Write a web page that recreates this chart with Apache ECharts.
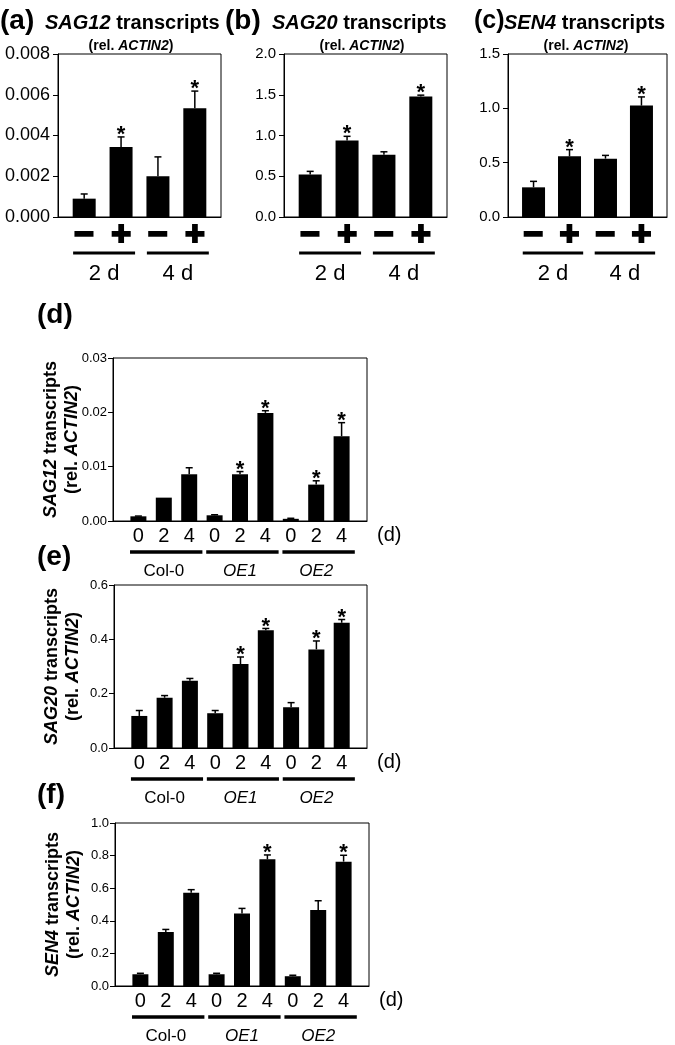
<!DOCTYPE html>
<html><head><meta charset="utf-8">
<script src="https://cdn.jsdelivr.net/npm/echarts@6/dist/echarts.min.js"></script>
<style>html,body{margin:0;padding:0;background:#fff}#c{width:675px;height:1045px}</style>
</head><body><div id="c"></div>
<script>
const FONT = '"Liberation Sans", Arial, Helvetica, sans-serif';

// ---------- data: panels (a)-(c) ----------
const treatLabels = ['\u2212', '+', '\u2212', '+'];
const dayGroups = ['2 d', '4 d'];
const sag12Treat = [0.0009, 0.00343, 0.0020, 0.00534];
const sag12TreatErr = [0.00023, 0.0005, 0.00095, 0.00084];
const sag12TreatSig = [0, 1, 0, 1];
const sag20Treat = [0.52, 0.94, 0.765, 1.48];
const sag20TreatErr = [0.04, 0.05, 0.035, 0.015];
const sag20TreatSig = [0, 1, 0, 1];
const sen4Treat = [0.273, 0.558, 0.537, 1.025];
const sen4TreatErr = [0.055, 0.062, 0.03, 0.08];
const sen4TreatSig = [0, 1, 0, 1];

// ---------- data: panels (d)-(f) ----------
const dayLabels = ['0', '2', '4', '0', '2', '4', '0', '2', '4'];
const lines = ['Col-0', 'OE1', 'OE2'];
const sag12Line = [0.00086, 0.0043, 0.0086, 0.00105, 0.0086, 0.0199, 0.0004, 0.0067, 0.0156];
const sag12LineErr = [0.00005, 0, 0.0012, 0.0001, 0.0005, 0.0004, 0.0001, 0.0007, 0.0025];
const sag12LineSig = [0, 0, 0, 0, 1, 1, 0, 1, 1];
const sag20Line = [0.118, 0.185, 0.248, 0.128, 0.309, 0.433, 0.15, 0.363, 0.461];
const sag20LineErr = [0.02, 0.008, 0.008, 0.01, 0.026, 0.007, 0.017, 0.031, 0.012];
const sag20LineSig = [0, 0, 0, 0, 1, 1, 0, 1, 1];
const sen4Line = [0.072, 0.332, 0.572, 0.072, 0.445, 0.777, 0.06, 0.466, 0.763];
const sen4LineErr = [0.006, 0.015, 0.019, 0.006, 0.031, 0.027, 0.006, 0.057, 0.039];
const sen4LineSig = [0, 0, 0, 0, 0, 1, 0, 0, 1];

const yTicksA = {max: 0.008, interval: 0.002, dec: 3};
const yTicksB = {max: 2.0, interval: 0.5, dec: 1};
const yTicksC = {max: 1.5, interval: 0.5, dec: 1};
const yTicksD = {max: 0.03, interval: 0.01, dec: 2};
const yTicksE = {max: 0.6, interval: 0.2, dec: 1};
const yTicksF = {max: 1.0, interval: 0.2, dec: 1};

// ---------- layout ----------
const panels = [
  {grid: {left: 58, top: 54, width: 163, height: 163}, top: true, vals: sag12Treat, errs: sag12TreatErr, sig: sag12TreatSig, y: yTicksA, yFont: 18},
  {grid: {left: 284, top: 54, width: 163, height: 163}, top: true, vals: sag20Treat, errs: sag20TreatErr, sig: sag20TreatSig, y: yTicksB, yFont: 15},
  {grid: {left: 508, top: 54, width: 159, height: 163}, top: true, vals: sen4Treat, errs: sen4TreatErr, sig: sen4TreatSig, y: yTicksC, yFont: 15},
  {grid: {left: 113, top: 358, width: 254, height: 163}, top: false, vals: sag12Line, errs: sag12LineErr, sig: sag12LineSig, y: yTicksD, yFont: 13, gene: 'SAG12'},
  {grid: {left: 114, top: 585, width: 253, height: 163}, top: false, vals: sag20Line, errs: sag20LineErr, sig: sag20LineSig, y: yTicksE, yFont: 13, gene: 'SAG20'},
  {grid: {left: 115, top: 823, width: 254, height: 163}, top: false, vals: sen4Line, errs: sen4LineErr, sig: sen4LineSig, y: yTicksF, yFont: 13, gene: 'SEN4'}
];

function errRender(params, api) {
  const x = api.value(0), v = api.value(1), e = api.value(2), s = api.value(3);
  const p0 = api.coord([x, v]);
  const p1 = api.coord([x, v + e]);
  const ch = [];
  if (e > 0) {
    ch.push({type: 'line', shape: {x1: p0[0], y1: p0[1], x2: p1[0], y2: p1[1]}, style: {stroke: '#000', lineWidth: 1.5}});
    ch.push({type: 'line', shape: {x1: p1[0] - 3.5, y1: p1[1], x2: p1[0] + 3.5, y2: p1[1]}, style: {stroke: '#000', lineWidth: 1.5}});
  }
  if (s) {
    ch.push({type: 'text', style: {text: '*', x: p1[0], y: p1[1] - 2, align: 'center', verticalAlign: 'middle', font: 'bold 22px ' + FONT, fill: '#000'}});
  }
  return {type: 'group', children: ch};
}

const grids = [], xAxes = [], yAxes = [], series = [];
panels.forEach((p, k) => {
  grids.push(Object.assign({show: true, borderColor: '#000', borderWidth: 1, backgroundColor: 'transparent'}, p.grid));
  const xs = p.vals.map((_, i) => i + 1);
  xAxes.push({
    type: 'value', gridIndex: k,
    min: p.top ? 0.29 : 0, max: p.top ? 4.71 : 10,
    axisLine: {show: true, onZero: false, lineStyle: {color: '#000', width: 1}},
    axisTick: {show: false}, splitLine: {show: false},
    axisLabel: p.top ? {
      customValues: xs, margin: 2, color: '#000', fontFamily: FONT, fontSize: 34, fontWeight: 'bold',
      textBorderColor: '#000', textBorderWidth: 2,
      formatter: v => treatLabels[Math.round(v) - 1]
    } : {
      customValues: xs, margin: 5, color: '#000', fontFamily: FONT, fontSize: 20,
      formatter: v => dayLabels[Math.round(v) - 1]
    }
  });
  const yax = {
    type: 'value', gridIndex: k, min: 0, max: p.y.max, interval: p.y.interval,
    axisLine: {show: true, lineStyle: {color: '#000', width: 1}},
    axisTick: {show: true, length: 5, lineStyle: {color: '#000'}},
    splitLine: {show: false},
    axisLabel: {color: '#000', fontFamily: FONT, fontSize: p.yFont, margin: p.top ? 8 : 6,
      formatter: v => v.toFixed(p.y.dec)}
  };
  if (!p.top) {
    yax.name = '{bi|' + p.gene + '}{b| transcripts}\n{b|(rel. }{bi|ACTIN2}{b|)}';
    yax.nameLocation = 'middle';
    yax.nameRotate = 90;
    yax.nameGap = 30;
    yax.nameMoveOverlap = false;
    yax.nameTextStyle = {color: '#000', lineHeight: 21, rich: {
      b: {fontFamily: FONT, fontSize: 18, fontWeight: 'bold', color: '#000', lineHeight: 21},
      bi: {fontFamily: FONT, fontSize: 18, fontWeight: 'bold', fontStyle: 'italic', color: '#000', lineHeight: 21}
    }};
  }
  yAxes.push(yax);
  series.push({
    type: 'bar', xAxisIndex: k, yAxisIndex: k, barWidth: p.top ? 23 : 16,
    itemStyle: {color: '#000'}, silent: true, animation: false,
    data: p.vals.map((v, i) => [xs[i], v])
  });
  series.push({
    type: 'custom', xAxisIndex: k, yAxisIndex: k, renderItem: errRender, z: 5, animation: false, silent: true,
    encode: {x: 0, y: 1},
    data: p.vals.map((v, i) => [xs[i], v, p.errs[i], p.sig[i]])
  });
});

const chart = echarts.init(document.getElementById('c'), null, {renderer: 'canvas'});
chart.setOption({
  animation: false, backgroundColor: '#fff',
  grid: grids, xAxis: xAxes, yAxis: yAxes, series: series
});

// ---------- annotations (titles, group lines) ----------
const g = [];
function txt(text, x, y, font, align) {
  g.push({type: 'text', silent: true, style: {text: text, x: x, y: y, font: font, fill: '#000', align: align || 'left', verticalAlign: 'middle'}});
}
const richTitle = {
  b: {fontFamily: FONT, fontSize: 20, fontWeight: 'bold', fill: '#000'},
  bi: {fontFamily: FONT, fontSize: 20, fontWeight: 'bold', fontStyle: 'italic', fill: '#000'},
  s: {fontFamily: FONT, fontSize: 14, fontWeight: 'bold', fill: '#000'},
  si: {fontFamily: FONT, fontSize: 14, fontWeight: 'bold', fontStyle: 'italic', fill: '#000'}
};
const topTitles = [
  {tag: '(a)', gene: 'SAG12', tagX: 0, tagFont: 'bold 28px ', x: 45, sub: 131},
  {tag: '(b)', gene: 'SAG20', tagX: 225, tagFont: 'bold 28px ', x: 272, sub: 362},
  {tag: '(c)', gene: 'SEN4', tagX: 474, tagFont: 'bold 25px ', x: 504, sub: 586}
];
topTitles.forEach(t => {
  txt(t.tag, t.tagX, 21, t.tagFont + FONT);
  g.push({type: 'text', silent: true, style: {text: '{bi|' + t.gene + '}{b| transcripts}', x: t.x, y: 23, verticalAlign: 'middle', rich: richTitle}});
  g.push({type: 'text', silent: true, style: {text: '{s|(rel. }{si|ACTIN2}{s|)}', x: t.sub, y: 46, align: 'center', verticalAlign: 'middle', rich: richTitle}});
});
txt('(d)', 37, 315, 'bold 28px ' + FONT);
txt('(e)', 37, 557, 'bold 28px ' + FONT);
txt('(f)', 37, 795, 'bold 28px ' + FONT);

panels.forEach((p, k) => {
  const px = v => chart.convertToPixel({xAxisIndex: k, yAxisIndex: k}, [v, 0]);
  const base = px(1)[1];
  if (p.top) {
    dayGroups.forEach((name, gi) => {
      const a = gi * 2 + 1, b = gi * 2 + 2;
      const x1 = px(a - 0.3)[0], x2 = px(b + 0.38)[0];
      g.push({type: 'line', silent: true, shape: {x1: x1, y1: base + 36, x2: x2, y2: base + 36}, style: {stroke: '#000', lineWidth: 3}});
      txt(name, (x1 + x2) / 2, base + 57, '22px ' + FONT, 'center');
    });
  } else {
    lines.forEach((name, gi) => {
      const a = gi * 3 + 1, b = gi * 3 + 3;
      const x1 = px(a - 0.33)[0], x2 = px(b + 0.52)[0];
      g.push({type: 'line', silent: true, shape: {x1: x1, y1: base + 31, x2: x2, y2: base + 31}, style: {stroke: '#000', lineWidth: 3.5}});
      txt(name, px(a + 1)[0], base + 50, (gi === 0 ? '' : 'italic ') + '17px ' + FONT, 'center');
    });
    txt('(d)', px(10)[0] + 10, base + 14, '20px ' + FONT, 'left');
  }
});
chart.setOption({graphic: g});
</script></body></html>
